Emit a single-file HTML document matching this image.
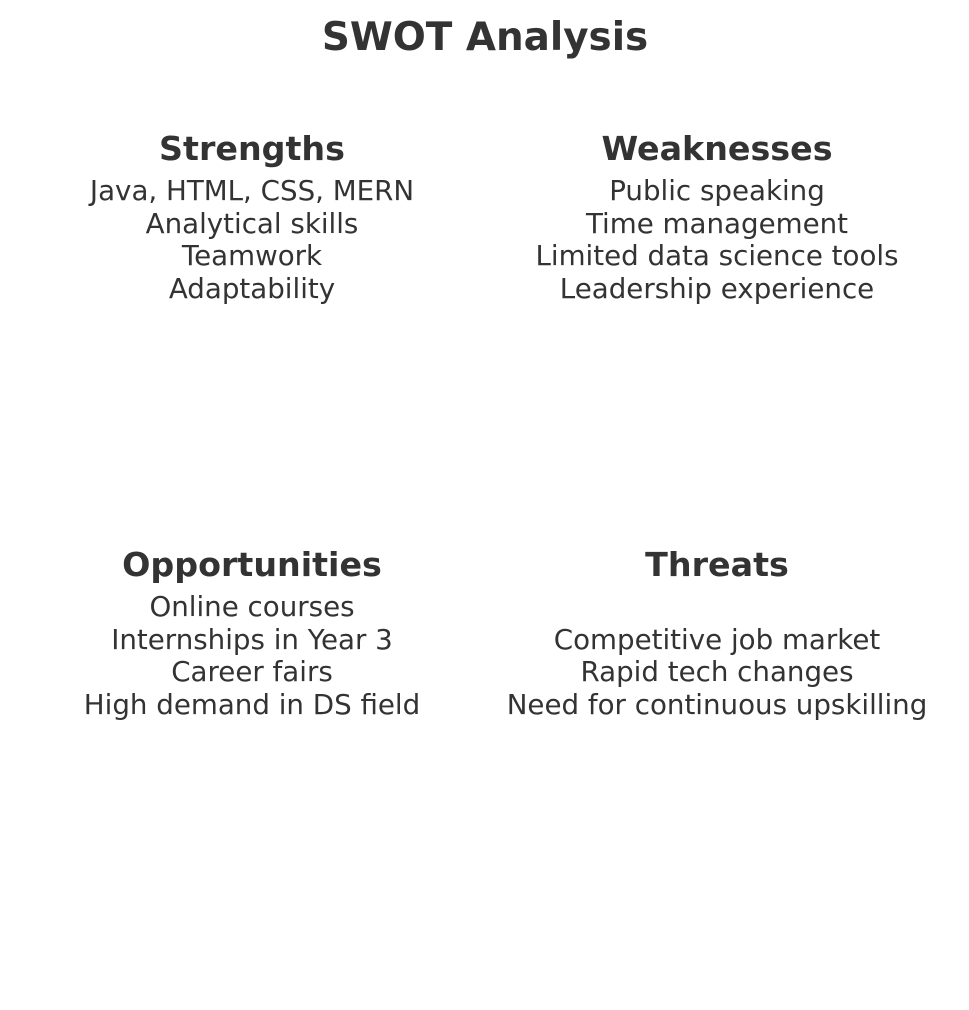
<!DOCTYPE html>
<html><head><meta charset="utf-8"><style>
html,body{margin:0;padding:0;background:#fff;}
body{width:969px;height:1010px;position:relative;overflow:hidden;font-family:"DejaVu Sans","Liberation Sans",sans-serif;color:#333;}
.c{position:absolute;transform:translateX(-50%);text-align:center;white-space:nowrap;}
.t{font-weight:bold;font-size:38.9px;line-height:40px;}
.h{font-weight:bold;font-size:33.3px;line-height:36px;}
.b{font-size:27.7px;line-height:32.5px;}
</style></head><body>
<div class="c t" style="left:485px;top:18px;">SWOT Analysis</div>

<div class="c h" style="left:252px;top:131px;">Strengths</div>
<div class="c b" style="left:252px;top:175px;">Java, HTML, CSS, MERN<br>Analytical skills<br>Teamwork<br>Adaptability</div>

<div class="c h" style="left:717px;top:131px;">Weaknesses</div>
<div class="c b" style="left:717px;top:175px;">Public speaking<br>Time management<br>Limited data science tools<br>Leadership experience</div>

<div class="c h" style="left:252px;top:547px;">Opportunities</div>
<div class="c b" style="left:252px;top:591px;">Online courses<br>Internships in Year 3<br>Career fairs<br>High demand in DS field</div>

<div class="c h" style="left:717px;top:547px;">Threats</div>
<div class="c b" style="left:717px;top:591px;">&nbsp;<br>Competitive job market<br>Rapid tech changes<br>Need for continuous upskilling</div>
</body></html>
